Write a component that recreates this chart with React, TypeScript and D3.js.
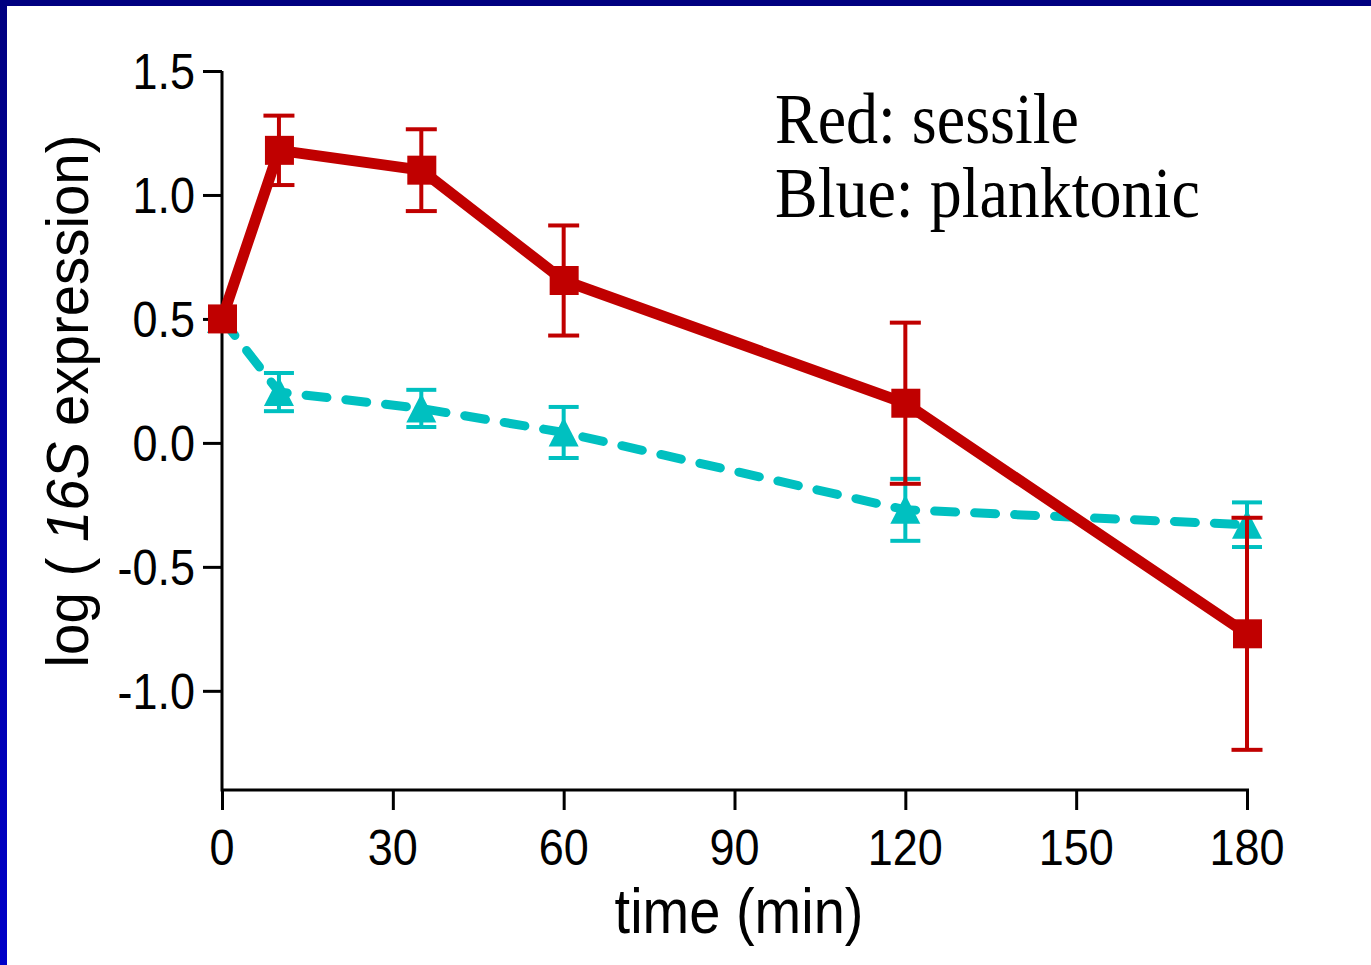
import React, { useRef, useEffect } from "react";
import * as d3 from "d3";

// time points (min)
const times = [0, 10, 35, 60, 120, 180];

// sessile (red)
const sessile = [0.5, 1.18, 1.1, 0.655, 0.16, -0.77];
const sessileErr = [0, 0.14, 0.165, 0.222, 0.325, 0.468];

// planktonic (blue)
const planktonic = [0.5, 0.205, 0.139, 0.042, -0.27, -0.33];
const planktonicErr = [0, 0.077, 0.075, 0.103, 0.125, 0.09];

const xTicks = [0, 30, 60, 90, 120, 150, 180];
const yTicks = [-1.0, -0.5, 0.0, 0.5, 1.0, 1.5];

const legendLines = ["Red: sessile", "Blue: planktonic"];

const RED = "#C00000";
const CYAN = "#00C0C0";

const App = () => {
  const svgRef = useRef<SVGSVGElement>(null);

  useEffect(() => {
    const svg = d3.select(svgRef.current);
    svg.selectAll("*").remove();

    const width = 1371;
    const height = 965;
    svg.attr("width", width).attr("height", height);

    // frame
    const defs = svg.append("defs");
    const grad = defs
      .append("linearGradient")
      .attr("id", "leftband")
      .attr("x1", 0)
      .attr("y1", 0)
      .attr("x2", 0)
      .attr("y2", 1);
    grad.append("stop").attr("offset", "0%").attr("stop-color", "#000080");
    grad.append("stop").attr("offset", "100%").attr("stop-color", "#0000C8");

    svg.append("rect").attr("width", width).attr("height", height).attr("fill", "#fff");
    svg.append("rect").attr("x", 0).attr("y", 0).attr("width", 7).attr("height", height).attr("fill", "url(#leftband)");
    svg.append("rect").attr("x", 0).attr("y", 0).attr("width", width).attr("height", 6).attr("fill", "#000080");

    const x = d3.scaleLinear().domain([0, 180]).range([222, 1247]);
    const y = d3.scaleLinear().domain([-1.4, 1.5]).range([790, 71]);

    const font = "'Liberation Sans', Arial, sans-serif";
    const serif = "'Liberation Serif', 'Times New Roman', serif";

    // axes
    const yAxis = svg
      .append("g")
      .attr("transform", `translate(${x(0)},0)`)
      .call(
        d3
          .axisLeft(y)
          .tickValues(yTicks)
          .tickSize(19)
          .tickSizeOuter(0)
          .tickFormat(() => "")
      );
    yAxis.selectAll("path, line").attr("stroke", "#000").attr("stroke-width", 3);
    yAxis.select(".domain").remove();

    const xAxis = svg
      .append("g")
      .attr("transform", `translate(0,${y(-1.4)})`)
      .call(
        d3
          .axisBottom(x)
          .tickValues(xTicks)
          .tickSize(20)
          .tickSizeOuter(0)
          .tickFormat(() => "")
      );
    xAxis.selectAll("path, line").attr("stroke", "#000").attr("stroke-width", 3);
    xAxis.select(".domain").remove();

    svg
      .append("path")
      .attr("d", `M${x(0)},${y(1.5)}V${y(-1.4)}H${x(180) + 2}`)
      .attr("fill", "none")
      .attr("stroke", "#000")
      .attr("stroke-width", 3);

    // tick labels
    svg
      .selectAll("text.ytick")
      .data(yTicks)
      .join("text")
      .attr("class", "ytick")
      .attr("transform", d => `translate(195,${y(d) + 18}) scale(1,1.11)`)
      .attr("text-anchor", "end")
      .attr("font-family", font)
      .attr("font-size", 45)
      .text(d => d.toFixed(1));

    svg
      .selectAll("text.xtick")
      .data(xTicks)
      .join("text")
      .attr("class", "xtick")
      .attr("transform", d => `translate(${x(d)},865) scale(1,1.11)`)
      .attr("text-anchor", "middle")
      .attr("font-family", font)
      .attr("font-size", 45)
      .text(d => String(d));

    // axis titles
    svg
      .append("text")
      .attr("transform", "translate(739,933) scale(1,1.11)")
      .attr("text-anchor", "middle")
      .attr("font-family", font)
      .attr("font-size", 56)
      .text("time (min)");

    const yl = svg
      .append("text")
      .attr("transform", "translate(88,401) rotate(-90) scale(0.94,1)")
      .attr("text-anchor", "middle")
      .attr("font-family", font)
      .attr("font-size", 60);
    yl.append("tspan").text("log ( ");
    yl.append("tspan").attr("font-style", "italic").text("16S");
    yl.append("tspan").text(" expression)");

    // legend text
    svg
      .selectAll("text.legend")
      .data(legendLines)
      .join("text")
      .attr("class", "legend")
      .attr("transform", (d, i) => `translate(775,${143 + i * 74}) scale(1,1.11)`)
      .attr("font-family", serif)
      .attr("font-size", 64)
      .text(d => d);

    const line = d3
      .line<number>()
      .x((d, i) => x(times[i]))
      .y(d => y(d));

    const drawErr = (vals: number[], errs: number[], color: string, cap: number) => {
      const g = svg.append("g").attr("stroke", color).attr("stroke-width", 4);
      vals.forEach((v, i) => {
        if (!errs[i]) return;
        const cx = x(times[i]);
        const top = y(v + errs[i]);
        const bot = y(v - errs[i]);
        g.append("line").attr("x1", cx).attr("x2", cx).attr("y1", top).attr("y2", bot);
        g.append("line").attr("x1", cx - cap / 2).attr("x2", cx + cap / 2).attr("y1", top).attr("y2", top);
        g.append("line").attr("x1", cx - cap / 2).attr("x2", cx + cap / 2).attr("y1", bot).attr("y2", bot);
      });
    };

    // planktonic
    svg
      .append("path")
      .datum(planktonic)
      .attr("d", line)
      .attr("fill", "none")
      .attr("stroke", CYAN)
      .attr("stroke-width", 9)
      .attr("stroke-linecap", "round")
      .attr("stroke-dasharray", "21 19");

    drawErr(planktonic, planktonicErr, CYAN, 30);

    svg
      .selectAll("path.tri")
      .data(planktonic)
      .join("path")
      .attr("class", "tri")
      .attr("d", (d, i) => {
        const cx = x(times[i]);
        const cy = y(d);
        return `M${cx},${cy - 15}L${cx + 15},${cy + 14}L${cx - 15},${cy + 14}Z`;
      })
      .attr("fill", CYAN);

    // sessile
    svg
      .append("path")
      .datum(sessile)
      .attr("d", line)
      .attr("fill", "none")
      .attr("stroke", RED)
      .attr("stroke-width", 11)
      .attr("stroke-linejoin", "round");

    svg
      .selectAll("rect.sq")
      .data(sessile)
      .join("rect")
      .attr("class", "sq")
      .attr("x", (d, i) => x(times[i]) - 14)
      .attr("y", d => y(d) - 14.5)
      .attr("width", 29)
      .attr("height", 29)
      .attr("fill", RED);

    drawErr(sessile, sessileErr, RED, 31);
  }, []);

  return (
    <div style={{ position: "absolute", left: 0, top: 0 }}>
      <svg ref={svgRef} style={{ display: "block" }} />
    </div>
  );
};

export default App;
